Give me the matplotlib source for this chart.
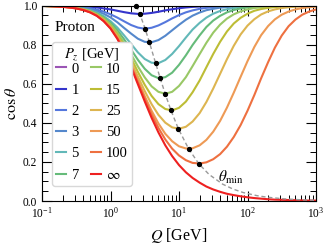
import matplotlib
matplotlib.use("Agg")
import matplotlib.pyplot as plt
from matplotlib.ticker import MultipleLocator

# Q grid [GeV]
q = [0.1, 0.126, 0.158, 0.2, 0.251, 0.316, 0.398, 0.501, 0.631, 0.794,
     1.0, 1.26, 1.58, 2.0, 2.51, 3.16, 3.98, 5.01, 6.31, 7.94,
     10, 12.6, 15.8, 20.0, 25.1, 31.6, 39.8, 50.1, 63.1, 79.4,
     100, 126, 158, 200, 251, 316, 398, 501, 631, 794, 1000]

# cos(theta) for each P_z
cos_p0 = [1.0] * 41
cos_p1 = [1.0, 1.0, .999, .999, .998, .997, .996, .994, .991, .986,
          .981, .974, .967, .961, .958, .959, .963, .969, .976, .982,
          .987, .991, .994, .996, .997, .998, .999, .999, 1.0, 1.0,
          1.0, 1.0, 1.0, 1.0, 1.0, 1.0, 1.0, 1.0, 1.0, 1.0, 1.0]
cos_p2 = [.999, .999, .999, .998, .996, .994, .991, .987, .980, .970,
          .956, .939, .920, .901, .888, .882, .887, .899, .916, .935,
          .952, .966, .976, .984, .989, .993, .995, .997, .998, .999,
          .999, 1.0, 1.0, 1.0, 1.0, 1.0, 1.0, 1.0, 1.0, 1.0, 1.0]
cos_p3 = [.999, .999, .998, .997, .995, .993, .988, .982, .972, .959,
          .940, .915, .886, .857, .831, .815, .813, .824, .846, .874,
          .902, .928, .949, .965, .977, .984, .990, .993, .996, .997,
          .998, .999, .999, 1.0, 1.0, 1.0, 1.0, 1.0, 1.0, 1.0, 1.0]
cos_p5 = [.999, .998, .998, .996, .994, .990, .985, .977, .965, .947,
          .921, .888, .848, .804, .761, .727, .708, .706, .722, .753,
          .793, .837, .878, .912, .939, .959, .973, .982, .988, .993,
          .995, .997, .998, .999, .999, 1.0, 1.0, 1.0, 1.0, 1.0, 1.0]
cos_p7 = [.999, .998, .997, .996, .993, .989, .983, .974, .960, .940,
          .912, .874, .828, .775, .723, .677, .644, .629, .634, .657,
          .697, .746, .799, .848, .891, .924, .948, .966, .978, .986,
          .991, .994, .996, .998, .998, .999, .999, 1.0, 1.0, 1.0, 1.0]
cos_p10 = [.999, .998, .997, .995, .993, .988, .982, .972, .957, .935,
           .904, .862, .810, .751, .689, .633, .587, .559, .549, .559,
           .589, .634, .691, .752, .810, .862, .903, .934, .956, .971,
           .981, .988, .992, .995, .997, .998, .999, .999, 1.0, 1.0, 1.0]
cos_p15 = [.999, .998, .997, .995, .992, .988, .981, .970, .954, .931,
           .897, .852, .796, .731, .661, .595, .538, .496, .471, .464,
           .477, .509, .557, .617, .685, .753, .815, .868, .909, .938,
           .959, .974, .983, .989, .993, .996, .997, .998, .999, .999, 1.0]
cos_p25 = [.999, .998, .997, .995, .992, .987, .980, .969, .952, .927,
           .892, .844, .784, .713, .637, .563, .496, .441, .401, .377,
           .370, .380, .407, .450, .507, .576, .651, .726, .795, .853,
           .898, .931, .955, .971, .981, .988, .992, .995, .997, .998, .999]
cos_p50 = [.999, .998, .997, .995, .991, .987, .979, .967, .950, .924,
           .887, .837, .774, .699, .618, .537, .462, .397, .344, .306,
           .280, .269, .270, .285, .313, .355, .410, .478, .555, .636,
           .716, .789, .849, .896, .930, .954, .970, .981, .988, .992, .995]
cos_p100 = [.999, .998, .997, .994, .991, .986, .979, .967, .949, .922,
            .885, .834, .769, .692, .608, .524, .444, .374, .315, .268,
            .233, .209, .195, .192, .198, .214, .240, .278, .328, .389,
            .462, .543, .628, .711, .785, .847, .895, .929, .954, .970, .981]
cos_inf = [.999, .998, .996, .994, .991, .986, .978, .966, .948, .921,
           .883, .830, .764, .685, .598, .510, .426, .351, .285, .230,
           .184, .147, .118, .094, .074, .059, .047, .037, .030, .024,
           .019, .015, .012, .009, .007, .006, .005, .004, .003, .002, .002]

# theta_min line and the minima of each curve
tmin_q = [2.39, 2.41, 2.47, 2.68, 3.2, 3.7, 4.57, 5.32, 6.29, 7.63, 9.78,
          13.8, 19.4, 27.4, 43.3, 61.3, 86.6, 137, 194, 336, 613, 1060]
tmin_cos = [1.0, .9968, .9879, .958, .8823, .8121, .7043, .6283, .5488,
            .4641, .3701, .2677, .1915, .1362, .0864, .0612, .0433, .0274,
            .0194, .0112, .0061, .0035]
dot_q = [2.39, 2.68, 3.2, 3.7, 4.57, 5.32, 6.29, 7.63, 9.78, 13.8, 19.4]
dot_cos = [1.0, .958, .8823, .8121, .7043, .6283, .5488, .4641, .3701, .2677, .1915]

labels = ['0', '1', '2', '3', '5', '7', '10', '15', '25', '50', '100', r'$\infty$']
colors = ['#9b55b5', '#3535cc', '#5577dd', '#5588cc', '#62b8b8', '#66bb7a',
          '#99c866', '#bdbd35', '#ddb550', '#ee9a55', '#ee7040', '#ee2020']
curves = [cos_p0, cos_p1, cos_p2, cos_p3, cos_p5, cos_p7, cos_p10, cos_p15,
          cos_p25, cos_p50, cos_p100, cos_inf]

plt.rcParams['font.family'] = 'serif'
plt.rcParams['font.serif'] = ['Liberation Serif', 'DejaVu Serif']
plt.rcParams['mathtext.fontset'] = 'stix'

fig = plt.figure(figsize=(3.25, 2.44), dpi=100)
ax = fig.add_axes([42/325, 1 - 201/244, 274/325, 195.3/244])

for y, lab, col in zip(curves, labels, colors):
    ax.plot(q, y, color=col, lw=1.5, label=lab)

ax.plot(tmin_q, tmin_cos, color='#999999', lw=1.0, dashes=(3, 2), zorder=5)
ax.plot(dot_q, dot_cos, 'o', color='k', ms=2.8, zorder=6, clip_on=False)

ax.set_xscale('log')
ax.set_xlim(0.1, 1000)
ax.set_ylim(0, 1)
ax.yaxis.set_major_locator(MultipleLocator(0.2))
ax.yaxis.set_minor_locator(MultipleLocator(0.05))
ax.yaxis.set_major_formatter(plt.FormatStrFormatter('%.1f'))
ax.tick_params(which='both', direction='in', top=True, right=True, labelsize=8.3)
ax.tick_params(which='major', length=7, width=0.8)
ax.tick_params(which='minor', length=4, width=0.7)

ax.set_xlabel(r'$Q$ [GeV]', fontsize=11.5, labelpad=4)
ax.set_ylabel(r'$\cos\theta$', fontsize=11.5, labelpad=2)

ax.text(0.047, 0.872, 'Proton', transform=ax.transAxes, fontsize=11, va='baseline')
ax.text(57, 0.123, r'$\theta_{\rm min}$', fontsize=11, ha='center', va='center')

leg = ax.legend(title=r'$P_z$ [GeV]', ncol=2, loc='upper left',
                bbox_to_anchor=(0.036, 0.814), borderaxespad=0, borderpad=0.3,
                fontsize=10.5, title_fontsize=10.5, handlelength=0.7,
                handletextpad=0.35, columnspacing=0.8, labelspacing=0.55,
                frameon=True, fancybox=True, edgecolor='#d8d8d8', framealpha=1)
leg._legend_box.sep = 0

fig.savefig('out.png', dpi=100)
